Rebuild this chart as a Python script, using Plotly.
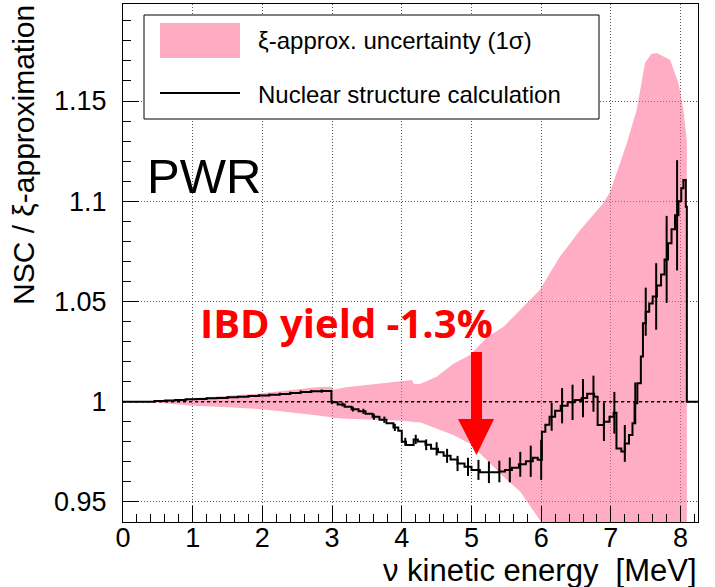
import numpy as np
import plotly.graph_objects as go

# ---------------- data ----------------
# Nuclear structure calculation (step histogram): bin lower edges and values
line_edges = [0.00, 0.45, 0.60, 0.75, 0.90, 1.05, 1.20, 1.35, 1.50, 1.65, 1.80, 1.95,
              2.10, 2.25, 2.40, 2.55, 2.70, 2.85, 2.99, 3.08, 3.18, 3.28, 3.38, 3.48,
              3.58, 3.68, 3.78, 3.88, 3.95, 4.00, 4.06, 4.17, 4.23, 4.34, 4.42, 4.52,
              4.60, 4.70, 4.80, 4.90, 5.00, 5.12, 5.40, 5.48, 5.58, 5.68, 5.78, 5.88,
              5.95, 6.01, 6.06, 6.12, 6.20, 6.28, 6.38, 6.48, 6.58, 6.66, 6.76, 6.81,
              6.90, 6.98, 7.04, 7.08, 7.15, 7.20, 7.26, 7.31, 7.34, 7.38, 7.43, 7.46,
              7.50, 7.55, 7.60, 7.66, 7.72, 7.77, 7.82, 7.87, 7.92, 7.97, 8.01, 8.04,
              8.075, 8.09]
line_values = [1.0000, 1.0003, 1.0006, 1.0009, 1.0012, 1.0014, 1.0017, 1.0019, 1.0022, 1.0025, 1.0028, 1.0031,
               1.0035, 1.0039, 1.0044, 1.0049, 1.0052, 1.0053, 0.9997, 0.9986, 0.9975, 0.9963, 0.9952, 0.9940,
               0.9925, 0.9910, 0.9893, 0.9872, 0.9855, 0.9800, 0.9784, 0.9812, 0.9802, 0.9785, 0.9765, 0.9748,
               0.9730, 0.9712, 0.9692, 0.9675, 0.9660, 0.9648, 0.9652, 0.9660, 0.9670, 0.9688, 0.9703, 0.9720,
               0.9710, 0.9850, 0.9885, 0.9925, 0.9955, 0.9980, 0.9997, 1.0008, 1.0018, 1.0040, 1.0025, 0.9884,
               0.9900, 0.9925, 0.9945, 0.9767, 0.9752, 0.9792, 0.9834, 0.9892, 0.9992, 1.0092, 1.0225, 1.0391,
               1.0449, 1.0490, 1.0525, 1.0580, 1.0635, 1.0710, 1.0790, 1.0860, 1.0930, 1.1000, 1.1065, 1.1106,
               1.0973, 1.0000]
x_end = 8.25

# error bars
err_E = [0.15, 0.3, 0.45, 0.6, 0.75, 0.9, 1.05, 1.2, 1.35, 1.5, 1.65, 1.8, 1.95, 2.1, 2.25,
         2.4, 2.55, 2.7, 2.85, 3.0, 3.15, 3.3, 3.45, 3.6, 3.75, 3.9, 4.05, 4.2, 4.35, 4.5,
         4.65, 4.8, 4.95, 5.1, 5.25, 5.4, 5.55, 5.7, 5.85, 6.0, 6.15, 6.3, 6.45, 6.6, 6.75,
         6.9, 7.05, 7.2, 7.35, 7.5, 7.65, 7.8, 7.95]
err_size = [0.0, 0.0001, 0.0001, 0.0002, 0.0002, 0.0002, 0.0003, 0.0003, 0.0003, 0.0004, 0.0004,
            0.0004, 0.0005, 0.0005, 0.0006, 0.0006, 0.0007, 0.0007, 0.0008, 0.0009, 0.0010,
            0.0012, 0.0013, 0.0015, 0.0016, 0.0018, 0.0020, 0.0023, 0.0027, 0.0033, 0.0035,
            0.0038, 0.0046, 0.0050, 0.0054, 0.0054, 0.0062, 0.0062, 0.0078, 0.0100, 0.0070,
            0.0088, 0.0088, 0.0095, 0.0090, 0.0096, 0.0104, 0.0092, 0.0104, 0.0120, 0.0166,
            0.0217, 0.0275]

# xi-approximation 1 sigma band
band_E = [0.28, 0.5, 1.0, 1.5, 2.0, 2.4, 2.77, 2.99, 3.01, 3.2, 3.54, 4.0, 4.15, 4.17, 4.26,
          4.5, 4.74, 4.98, 5.22, 5.46, 5.70, 5.98, 6.27, 6.56, 6.89, 6.99, 7.23, 7.37, 7.49,
          7.58, 7.66, 7.85, 7.97, 8.04, 8.09]
band_up = [1.0, 1.0006, 1.0017, 1.0030, 1.0042, 1.0058, 1.0072, 1.0075, 1.0060, 1.0072, 1.0085,
           1.0100, 1.0108, 1.0088, 1.0088, 1.0125, 1.0190, 1.0233, 1.0320, 1.0374, 1.0460,
           1.0557, 1.0724, 1.0856, 1.0990, 1.1048, 1.1290, 1.1456, 1.1690, 1.1735, 1.1740,
           1.1705, 1.1590, 1.1456, 1.1300]
band_lo = [1.0, 0.9995, 0.9980, 0.9972, 0.9963, 0.9948, 0.9933, 0.9922, 0.9920, 0.9915, 0.9910,
           0.9905, 0.9900, 0.9897, 0.9898, 0.9867, 0.9834, 0.9790, 0.9709, 0.9626, 0.9551,
           0.9410, 0.925, 0.915, 0.905, 0.900, 0.890, 0.885, 0.880, 0.878, 0.875, 0.870,
           0.865, 0.862, 0.860]

x_ticks = [0, 1, 2, 3, 4, 5, 6, 7, 8]
y_ticks = [0.95, 1.0, 1.05, 1.1, 1.15]
y_ticktext = ["0.95", "1", "1.05", "1.1", "1.15"]

# ---------------- figure ----------------
W, H = 715, 587
ML, MR, MT, MB = 123, 17, 4, 65
X0, X1 = 0.0, 8.25
Y0, Y1 = 0.94, 1.1984


def px(p):
    return (p - ML) / (W - ML - MR)


def py(p):
    return (H - MB - p) / (H - MT - MB)


fig = go.Figure()

PINK = "rgba(255,105,148,0.55)"
fig.add_trace(go.Scatter(
    x=band_E + band_E[::-1], y=band_up + band_lo[::-1],
    fill="toself", fillcolor=PINK, line=dict(width=0), mode="lines",
    hoverinfo="skip", showlegend=False))

fig.add_trace(go.Scatter(
    x=line_edges + [x_end], y=line_values + [line_values[-1]],
    mode="lines", line=dict(color="black", width=2, shape="hv"), showlegend=False))

edges_arr = np.array(line_edges)
vals_arr = np.array(line_values)
idx = np.searchsorted(edges_arr, np.array(err_E), side="right") - 1
err_y = vals_arr[idx]
fig.add_trace(go.Scatter(
    x=err_E, y=err_y, mode="markers", marker=dict(size=0.1, color="black"),
    error_y=dict(type="data", array=err_size, visible=True, width=0,
                 thickness=2, color="black"),
    showlegend=False))

shapes = []
# y=1 reference dashed line
shapes.append(dict(type="line", xref="x", yref="y", x0=X0, x1=X1, y0=1.0, y1=1.0,
                   line=dict(color="black", width=1.5, dash="3px,3px"), layer="above"))
# arrow (annotation graphic)
shaft_l, shaft_r, shaft_top, head_y = 4.993, 5.151, 1.0248, 0.9914
head_l, head_r, tip_x, tip_y = 4.806, 5.323, 5.072, 0.9734
shapes.append(dict(type="path", xref="x", yref="y",
                   path=f"M{shaft_l},{shaft_top} L{shaft_r},{shaft_top} L{shaft_r},{head_y} "
                        f"L{head_r},{head_y} L{tip_x},{tip_y} L{head_l},{head_y} L{shaft_l},{head_y} Z",
                   fillcolor="#ff0000", line=dict(width=0), layer="above"))
# legend box
shapes.append(dict(type="rect", xref="paper", yref="paper", x0=px(144), x1=px(599),
                   y0=py(119), y1=py(15), fillcolor="white",
                   line=dict(color="black", width=1), layer="above"))
shapes.append(dict(type="rect", xref="paper", yref="paper", x0=px(160), x1=px(240),
                   y0=py(58), y1=py(23), fillcolor="rgb(255,172,195)",
                   line=dict(width=0), layer="above"))
shapes.append(dict(type="line", xref="paper", yref="paper", x0=px(160), x1=px(240),
                   y0=py(93), y1=py(93), line=dict(color="black", width=2), layer="above"))

FONT = "Liberation Sans, Arial, Helvetica, sans-serif"
annotations = [
    dict(text="ξ-approx. uncertainty (1σ)", xref="paper", yref="paper", x=px(256), y=py(41),
         xanchor="left", yanchor="middle", showarrow=False, font=dict(size=24, family=FONT, color="black")),
    dict(text="Nuclear structure calculation", xref="paper", yref="paper", x=px(256), y=py(95),
         xanchor="left", yanchor="middle", showarrow=False, font=dict(size=24, family=FONT, color="black")),
    dict(text="PWR", xref="paper", yref="paper", x=px(145), y=py(176),
         xanchor="left", yanchor="middle", showarrow=False, font=dict(size=49, family=FONT, color="black")),
    dict(text="<b>IBD yield -1.3%</b>", xref="paper", yref="paper", x=px(198), y=py(322),
         xanchor="left", yanchor="middle", showarrow=False,
         font=dict(size=40, family="Open Sans, sans-serif", color="#ff0000")),
    dict(text="ν kinetic energy\u00a0\u00a0[MeV]", xref="paper", yref="paper", x=px(699), y=py(570),
         xanchor="right", yanchor="middle", showarrow=False, font=dict(size=31, family=FONT, color="black")),
    dict(text="NSC / ξ-approximation", xref="paper", yref="paper", x=px(24), y=py(3),
         xanchor="center", yanchor="top", textangle=-90, showarrow=False,
         font=dict(size=30, family=FONT, color="black")),
]

fig.update_layout(
    width=W, height=H, margin=dict(l=ML, r=MR, t=MT, b=MB),
    plot_bgcolor="white", paper_bgcolor="white", showlegend=False,
    shapes=shapes, annotations=annotations,
    font=dict(family=FONT, color="black"),
    xaxis=dict(range=[X0, X1], tickmode="array", tickvals=x_ticks,
               ticks="inside", ticklen=16, tickwidth=1, tickcolor="black",
               minor=dict(tickmode="linear", tick0=0, dtick=0.2, ticks="inside", ticklen=8,
                          tickcolor="black", showgrid=False),
               showgrid=True, gridcolor="#555555", griddash="1px,2px", gridwidth=1,
               showline=True, linecolor="black", linewidth=1, mirror=True, zeroline=False,
               tickfont=dict(size=27, family=FONT, color="black"), ticklabelstandoff=-8),
    yaxis=dict(range=[Y0, Y1], tickmode="array", tickvals=y_ticks, ticktext=y_ticktext,
               ticks="inside", ticklen=16, tickwidth=1, tickcolor="black",
               minor=dict(tickmode="linear", tick0=0.94, dtick=0.01, ticks="inside", ticklen=8,
                          tickcolor="black", showgrid=False),
               showgrid=True, gridcolor="#555555", griddash="1px,2px", gridwidth=1,
               showline=True, linecolor="black", linewidth=1, mirror=True, zeroline=False,
               tickfont=dict(size=27, family=FONT, color="black"), ticklabelstandoff=10),
)

fig.write_html("out.html")
